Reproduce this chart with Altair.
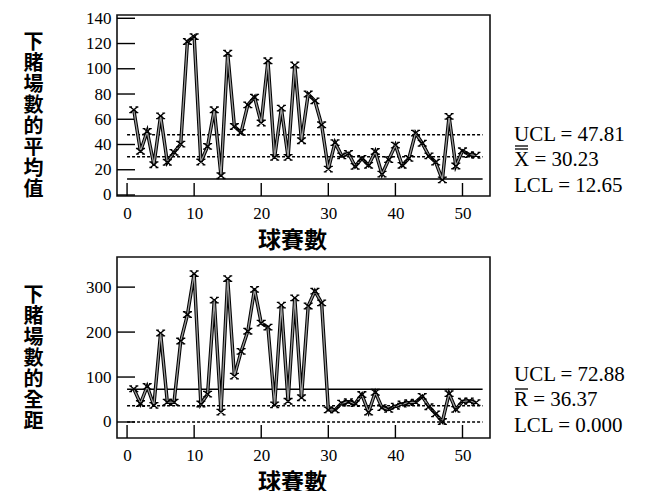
import altair as alt
import pandas as pd

# ---------------- data ----------------
games = list(range(1, 53))
xbar = [67.5, 34.6, 50.4, 24, 62.7, 25.9, 33.8, 40.3, 121.6, 125.5,
        26.1, 38.5, 67.5, 15.3, 112.3, 54.3, 49.6, 71.4, 77.5, 57,
        106.3, 29.8, 68.8, 29.8, 103, 43, 80, 74.6, 55.6, 20.5,
        41.5, 31, 33, 22.7, 29, 23.5, 34.5, 16.5, 28, 39.5,
        23.5, 29, 49, 41, 31, 26, 12, 62.3, 23, 35,
        32, 31.5]
ranges = [74, 41, 79, 37, 198, 44, 44, 180, 239, 330,
          40, 62, 271, 22, 319, 102, 157, 202, 295, 220,
          211, 38, 260, 46, 276, 54, 258, 291, 265, 27,
          27, 42, 45, 41, 61, 22, 66, 32, 28, 35,
          40, 43, 44, 57, 34, 18, 1, 63, 28, 46,
          47, 43]

x_ticks = [0, 10, 20, 30, 40, 50]
top_y_ticks = [0, 20, 40, 60, 80, 100, 120, 140]
bot_y_ticks = [0, 100, 200, 300]

top_ucl, top_center, top_lcl = 47.81, 30.23, 12.65
bot_ucl, bot_center, bot_lcl = 72.88, 36.37, 0.0

top_notes = ["UCL = 47.81", "X = 30.23", "LCL = 12.65"]
bot_notes = ["UCL = 72.88", "R = 36.37", "LCL = 0.000"]

top_ytitle = list("下賭場數的平均值")
bot_ytitle = list("下賭場數的全距")
xtitle = "球賽數"

# ---------------- style ----------------
W, H = 373, 181
SERIF = "Liberation Serif"
CJK = "Noto Sans CJK TC"
XSHAPE = ("M-1,-0.8L1,0.8M-1,0.8L1,-0.8"
          "M-1.3,-0.8L-0.5,-0.8M0.5,-0.8L1.3,-0.8"
          "M-1.3,0.8L-0.5,0.8M0.5,0.8L1.3,0.8")

line_start, line_end = 0, len(games) + 1


def panel(values, y_domain, y_ticks, ytitle, ucl, center, lcl, solid_is_ucl,
          notes, note_y, bars, title_y):
    df = pd.DataFrame({"game": games, "v": values})
    xs = alt.Scale(domain=[-1.5, 54.1], nice=False, zero=False)
    ys = alt.Scale(domain=y_domain, nice=False, zero=False)

    xaxis = alt.Axis(values=x_ticks, ticks=False, domain=False, grid=False, tickSize=0,
                     labelFont=SERIF, labelFontSize=17, labelColor="black", labelPadding=9,
                     labelFlush=False, labelOverlap=False,
                     title=xtitle, titleFont=CJK, titleFontSize=23, titleFontWeight="bold",
                     titleColor="black", titleX=175, titleY=44, titleBaseline="middle",
                     titleAlign="center")
    yaxis = alt.Axis(values=y_ticks, ticks=False, domain=False, grid=False, tickSize=0,
                     labelFont=SERIF, labelFontSize=17, labelColor="black", labelPadding=6,
                     labelFlush=False, labelOverlap=False,
                     title=ytitle, titleFont=CJK, titleFontSize=20, titleFontWeight="bold",
                     titleColor="black", titleAngle=0, titleLineHeight=21,
                     titleX=-84, titleY=title_y, titleAlign="center", titleBaseline="middle")

    X = lambda f: alt.X(f, scale=xs, axis=xaxis)
    Y = lambda f: alt.Y(f, scale=ys, axis=yaxis)

    base = alt.Chart(df)
    outline = base.mark_line(color="black", strokeWidth=3.4).encode(x=X("game:Q"), y=Y("v:Q"))
    inner = base.mark_line(color="#9a9a9a", strokeWidth=1.3).encode(x=X("game:Q"), y=Y("v:Q"))
    pts = base.mark_point(shape=XSHAPE, filled=False, color="black", strokeWidth=1.3,
                          size=49, opacity=1).encode(x=X("game:Q"), y=Y("v:Q"))

    solid_val = ucl if solid_is_ucl else lcl
    dashed_vals = [center, lcl] if solid_is_ucl else [ucl, center]
    solid_df = pd.DataFrame({"a": [line_start], "b": [line_end], "v": [solid_val]})
    dash_df = pd.DataFrame({"a": [line_start] * 2, "b": [line_end] * 2, "v": dashed_vals})
    solid = alt.Chart(solid_df).mark_rule(color="black", strokeWidth=1.5).encode(
        x=X("a:Q"), x2="b:Q", y=Y("v:Q"))
    dashed = alt.Chart(dash_df).mark_rule(color="black", strokeWidth=1.5,
                                          strokeDash=[3, 2]).encode(
        x=X("a:Q"), x2="b:Q", y=Y("v:Q"))

    xt = alt.Chart(pd.DataFrame({"t": x_ticks})).mark_rule(color="black", strokeWidth=1.4).encode(
        x=X("t:Q"), y=alt.value(H), y2=alt.value(H - 13))
    yt = alt.Chart(pd.DataFrame({"t": y_ticks})).mark_rule(color="black", strokeWidth=1.4).encode(
        y=Y("t:Q"), x=alt.value(0), x2=alt.value(18))

    layers = [solid, dashed, xt, yt, outline, inner, pts]
    for i, txt in enumerate(notes):
        layers.append(
            alt.Chart(pd.DataFrame({"label": [txt]})).mark_text(
                align="left", baseline="middle", font=SERIF, fontSize=21, color="black"
            ).encode(x=alt.value(W + 24), y=alt.value(note_y + (i - 1) * 25.5), text="label:N")
        )
    # bar(s) over the X / R symbol of the centre-line label
    for k in range(bars):
        layers.append(
            alt.Chart(pd.DataFrame({"k": [k]})).mark_rule(color="black", strokeWidth=1.3).encode(
                x=alt.value(W + 25), x2=alt.value(W + 38),
                y=alt.value(note_y - 11 - 3 * k))
        )

    return alt.layer(*layers).properties(width=W, height=H)


top = panel(xbar, [-0.8, 142.6], top_y_ticks, top_ytitle,
            top_ucl, top_center, top_lcl, False, top_notes, 145, 2, 27)
bottom = panel(ranges, [-35.6, 367], bot_y_ticks, bot_ytitle,
               bot_ucl, bot_center, bot_lcl, True, bot_notes, 143, 1, 38)

chart = alt.vconcat(top, bottom, spacing=61, bounds="flush").properties(
    padding={"left": 14, "top": 0, "right": 0, "bottom": 0}
).configure(background="white").configure_view(stroke="#111", strokeWidth=1.6)

chart.save("out.html", embed_options={"renderer": "svg", "actions": False})
